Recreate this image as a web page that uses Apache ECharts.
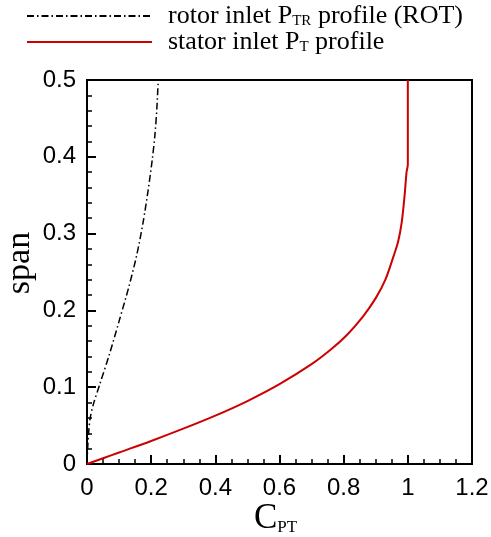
<!DOCTYPE html>
<html>
<head>
<meta charset="utf-8">
<script src="https://cdn.jsdelivr.net/npm/echarts@6/dist/echarts.min.js"></script>
<style>
  html, body { margin: 0; padding: 0; background: #fff; }
  #chart { width: 491px; height: 537px; }
</style>
</head>
<body>
<div id="chart"></div>
<script>
// rotor inlet P_TR profile (ROT): [C_PT, span]
var rotorProfile = [
  [0, 0], [0.002, 0.02], [0.005, 0.04], [0.01, 0.06], [0.02, 0.078],
  [0.04, 0.104], [0.07, 0.143], [0.1, 0.186], [0.13, 0.23], [0.155, 0.272],
  [0.175, 0.315], [0.19, 0.355], [0.203, 0.395], [0.212, 0.43],
  [0.218, 0.465], [0.222, 0.5]
];
// stator inlet P_T profile: [C_PT, span]
var statorProfile = [
  [0, 0], [0.05, 0.0075], [0.1, 0.015], [0.2, 0.03], [0.3, 0.046],
  [0.4, 0.063], [0.5, 0.082], [0.6, 0.104], [0.7, 0.13], [0.76, 0.149],
  [0.81, 0.168], [0.86, 0.192], [0.9, 0.216], [0.93, 0.24], [0.955, 0.27],
  [0.97, 0.29], [0.981, 0.315], [0.99, 0.35], [0.996, 0.38], [1.0, 0.39],
  [1.0, 0.5]
];
var xTicks = { min: 0, max: 1.2, step: 0.2 };
var yTicks = { min: 0, max: 0.5, step: 0.1 };

var myChart = echarts.init(document.getElementById("chart"));
var serif = "Liberation Serif";
var sans = "Liberation Sans";

myChart.setOption({
  animation: false,
  legend: {
    orient: "vertical",
    left: 21,
    top: -2,
    itemWidth: 125,
    itemHeight: 14,
    itemGap: 0,
    itemStyle: { color: "transparent", borderColor: "transparent", borderWidth: 0 },
    textStyle: {
      fontFamily: serif,
      fontSize: 26,
      color: "#000",
      padding: [0, 0, 0, 11],
      rich: {
        a: { fontFamily: serif, fontSize: 26, color: "#000" },
        s: { fontFamily: serif, fontSize: 15, color: "#000", verticalAlign: "bottom", padding: [10, 0, 0, 0] }
      }
    },
    formatter: function (name) {
      if (name === "rotor") return "{a|rotor inlet P}{s|TR}{a| profile (ROT)}";
      return "{a|stator inlet P}{s|T}{a| profile}";
    },
    data: ["rotor", "stator"]
  },
  grid: {
    left: 87,
    right: 19,
    top: 80,
    bottom: 73,
    outerBoundsMode: "none",
    containLabel: false,
    show: true,
    borderColor: "#000",
    borderWidth: 2,
    backgroundColor: "transparent"
  },
  xAxis: {
    type: "value",
    min: xTicks.min,
    max: xTicks.max,
    interval: xTicks.step,
    name: "{c|C}{p|PT}",
    nameLocation: "middle",
    nameMoveOverlap: false,
    nameGap: 37,
    nameTextStyle: {
      padding: [0, 8, 0, 0],
      rich: {
        c: { fontFamily: serif, fontSize: 35, color: "#000" },
        p: { fontFamily: serif, fontSize: 17, color: "#000", verticalAlign: "bottom", padding: [16, 0, 0, 0] }
      }
    },
    axisLine: { lineStyle: { color: "#000", width: 2 } },
    axisTick: { inside: true, length: 9, lineStyle: { color: "#000", width: 2 } },
    minorTick: { show: true, splitNumber: 4, length: 5, lineStyle: { color: "#000", width: 1.5 } },
    splitLine: { show: false },
    axisLabel: { fontFamily: sans, fontSize: 24, color: "#000", margin: 12 }
  },
  yAxis: {
    type: "value",
    min: yTicks.min,
    max: yTicks.max,
    interval: yTicks.step,
    name: "span",
    nameLocation: "middle",
    nameMoveOverlap: false,
    nameGap: 50,
    nameTextStyle: { fontFamily: serif, fontSize: 34, color: "#000", padding: [0, 0, 0, 18] },
    axisLine: { lineStyle: { color: "#000", width: 2 } },
    axisTick: { inside: true, length: 9, lineStyle: { color: "#000", width: 2 } },
    minorTick: { show: true, splitNumber: 5, length: 5, lineStyle: { color: "#000", width: 1.5 } },
    splitLine: { show: false },
    axisLabel: { fontFamily: sans, fontSize: 24, color: "#000", margin: 11 }
  },
  series: [
    {
      name: "rotor",
      type: "line",
      showSymbol: false,
      symbol: "none",
      smooth: 0.3,
      lineStyle: { color: "#000", width: 1.5, type: [7, 3, 1.5, 3] },
      itemStyle: { color: "#000" },
      data: rotorProfile
    },
    {
      name: "stator",
      type: "line",
      showSymbol: false,
      symbol: "none",
      smooth: 0.3,
      lineStyle: { color: "#cc0000", width: 2 },
      itemStyle: { color: "#cc0000" },
      data: statorProfile
    }
  ]
});
</script>
</body>
</html>
